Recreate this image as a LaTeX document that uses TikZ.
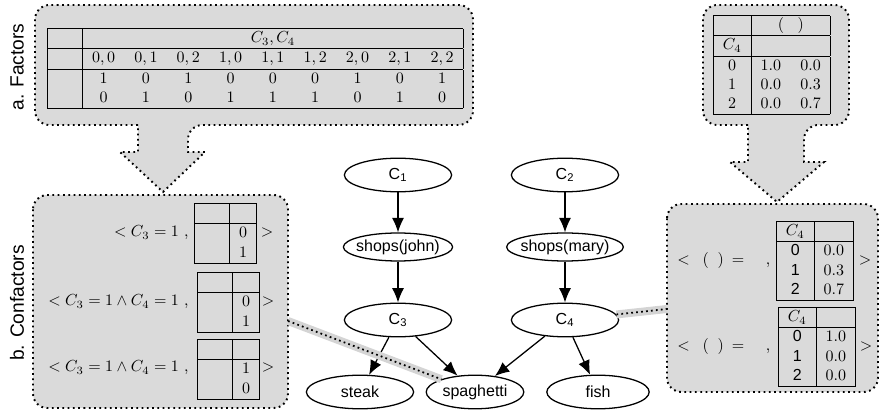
\documentclass[tikz,border=0pt]{standalone}
\usepackage{fontspec}
\setsansfont{Liberation Sans}
\usetikzlibrary{shapes.geometric,arrows.meta}
\definecolor{boxgray}{RGB}{218,218,218}
\definecolor{bandgray}{RGB}{212,212,212}
\setlength{\arrayrulewidth}{0.6pt}

\begin{document}
\begin{tikzpicture}[x=0.625pt, y=-0.625pt,
    var/.style={ellipse, draw, line width=0.8pt, fill=white, minimum width=67pt, minimum height=21pt, inner xsep=-2pt, inner ysep=0.5pt, font=\sffamily},
    panel/.style={fill=boxgray, draw, line width=1.2pt, dash pattern=on 1.1pt off 2.2pt},
    link/.style={line width=1.1pt, dash pattern=on 1.1pt off 2pt, preaction={draw=bandgray, line width=5pt, solid}},
    tab/.style={anchor=north west, inner sep=0pt},
    txt/.style={inner sep=0pt}]
    \useasboundingbox (0,0) rectangle (881,414);

    % dotted panels
    \draw[panel] (138,125) [rounded corners=9pt] -- (35,125) -- (35,5) -- (473,5) -- (473,125) -- (188,125) [sharp corners] -- (188,152) -- (205,152) -- (163,192) -- (120,152) -- (138,152) -- cycle;
    \draw[panel] (748,125) [rounded corners=9pt] -- (703,125) -- (703,5) -- (849,5) -- (849,125) -- (804,125) [sharp corners] -- (804,162) -- (824,162) -- (777,202) -- (730,162) -- (748,162) -- cycle;
    \draw[panel, rounded corners=9pt] (33,195) rectangle (288,408);
    \draw[panel, rounded corners=9pt] (667,204) rectangle (878,392);

    \node[rotate=90, font=\sffamily\large] (lblA) at (17,67) {a. Factors};
    \node[rotate=90, font=\sffamily\large] (lblB) at (17,303) {b. Confactors};

    % network
    \node[var] (c1) at (398,175) {C\textsubscript{1}};
    \node[var] (c2) at (565,175) {C\textsubscript{2}};
    \node[var, minimum height=17.5pt] (sj) at (398,247) {shops(john)};
    \node[var, minimum height=17.5pt] (sm) at (565,247) {shops(mary)};
    \node[var] (c3) at (398,320) {C\textsubscript{3}};
    \node[var] (c4) at (565,320) {C\textsubscript{4}};
    \node[var] (steak) at (360,392) {steak};
    \node[var, minimum width=61pt] (spag) at (475,392) {spaghetti};
    \node[var, minimum width=64pt] (fish) at (598,392) {fish};

    \path[-{Latex[length=9pt,width=7.5pt]}, line width=0.8pt]
        (c1) edge (sj) (sj) edge (c3)
        (c2) edge (sm) (sm) edge (c4)
        (c3) edge (steak) (c3) edge (spag)
        (c4) edge (spag) (c4) edge (fish);

    \coordinate (bport) at (288,321);
    \coordinate (cport) at (667,309);
    \draw[link] (bport) -- (spag);
    \draw[link] (c4) -- (cport);

    % factor tables
    \node[tab] (facttab) at (47,28) {%
        \begin{tabular}{|p{10pt}|ccccccccc|}
            \hline
            & \multicolumn{9}{c|}{$C_3, C_4$} \\ \hline
            & $0,0$ & $0,1$ & $0,2$ & $1,0$ & $1,1$ & $1,2$ & $2,0$ & $2,1$ & $2,2$ \\ \hline
            & 1 & 0 & 1 & 0 & 0 & 0 & 1 & 0 & 1 \\
            & 0 & 1 & 0 & 1 & 1 & 1 & 0 & 1 & 0 \\ \hline
        \end{tabular}};
    \node[tab] (probtab) at (713,15) {%
        \begin{tabular}{|c|cc|}
            \hline
            & \multicolumn{2}{c|}{$(\hspace{8.5pt})$} \\ \hline
            $C_4$ & \multicolumn{2}{c|}{} \\ \hline
            0 & 1.0 & 0.0 \\
            1 & 0.0 & 0.3 \\
            2 & 0.0 & 0.7 \\ \hline
        \end{tabular}};

    % confactors, left
    \node[txt, anchor=east] (cfa) at (189,233) {$<C_3=1$ ,};
    \node[tab] (cfatab) at (194,203) {%
        \begin{tabular}{|p{10pt}|c|}
            \hline
            & \\ \hline
            & 0 \\
            & 1 \\ \hline
        \end{tabular}};
    \node (cfaend) at (267,233) {$>$};

    \node[txt, anchor=east] (cfb) at (189,302) {$<C_3=1\wedge C_4=1$ ,};
    \node[tab] (cfbtab) at (197,272) {%
        \begin{tabular}{|p{10pt}|c|}
            \hline
            & \\ \hline
            & 0 \\
            & 1 \\ \hline
        \end{tabular}};
    \node (cfbend) at (268,302) {$>$};

    \node[txt, anchor=east] (cfc) at (189,368) {$<C_3=1\wedge C_4=1$ ,};
    \node[tab] (cfctab) at (197,339) {%
        \begin{tabular}{|p{10pt}|c|}
            \hline
            & \\ \hline
            & 1 \\
            & 0 \\ \hline
        \end{tabular}};
    \node (cfcend) at (268,368) {$>$};

    % confactors, right
    \node[txt, anchor=west] (cfd) at (677,261) {$<$\hspace{8pt}$($\hspace{5.5pt}$)$\hspace{5pt}$=$\hspace{13.5pt},};
    \node[tab] (cfdtab) at (776,221) {%
        \begin{tabular}{|c|c|}
            \hline
            $C_4$ & \\ \hline
            \textsf{0} & 0.0 \\
            \textsf{1} & 0.3 \\
            \textsf{2} & 0.7 \\ \hline
        \end{tabular}};
    \node (cfdend) at (865,261) {$>$};

    \node[txt, anchor=west] (cfe) at (677,347) {$<$\hspace{8pt}$($\hspace{5.5pt}$)$\hspace{5pt}$=$\hspace{13.5pt},};
    \node[tab] (cfetab) at (778,307) {%
        \begin{tabular}{|c|c|}
            \hline
            $C_4$ & \\ \hline
            \textsf{0} & 1.0 \\
            \textsf{1} & 0.0 \\
            \textsf{2} & 0.0 \\ \hline
        \end{tabular}};
    \node (cfeend) at (866,347) {$>$};
\end{tikzpicture}
\end{document}
